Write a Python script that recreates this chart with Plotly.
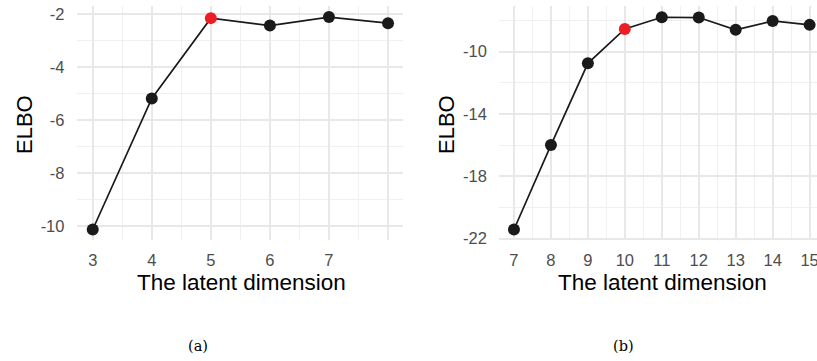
import plotly.graph_objects as go

# Panel (a)
dims_a = [3, 4, 5, 6, 7, 8]
elbo_a = [-10.14, -5.18, -2.14, -2.42, -2.10, -2.33]
best_a = 5
xtick_a = [3, 4, 5, 6, 7, 8]
xtext_a = ["3", "4", "5", "6", "7", ""]
ytick_a = [-2, -4, -6, -8, -10]

# Panel (b)
dims_b = [7, 8, 9, 10, 11, 12, 13, 14, 15]
elbo_b = [-21.42, -16.0, -10.75, -8.54, -7.79, -7.81, -8.6, -8.03, -8.28]
best_b = 10
xtick_b = [7, 8, 9, 10, 11, 12, 13, 14, 15]
ytick_b = [-10, -14, -18, -22]

FONT = "Liberation Sans"
LINE = "#1a1a1a"
RED = "#ee1d24"
GRID = "#e8e8e8"
MINOR = "#f0f0f0"

fig = go.Figure()

def add_panel(xs, ys, best, xa, ya):
    fig.add_trace(go.Scatter(x=xs, y=ys, mode="lines", line=dict(color=LINE, width=1.7),
                             xaxis=xa, yaxis=ya, showlegend=False, hoverinfo="skip", cliponaxis=False))
    cols = [RED if x == best else LINE for x in xs]
    fig.add_trace(go.Scatter(x=xs, y=ys, mode="markers", marker=dict(color=cols, size=12),
                             xaxis=xa, yaxis=ya, showlegend=False, cliponaxis=False))

add_panel(dims_a, elbo_a, best_a, "x", "y")
add_panel(dims_b, elbo_b, best_b, "x2", "y2")

common = dict(showline=False, zeroline=False, showgrid=True, gridcolor=GRID, gridwidth=1.6,
              tickfont=dict(family=FONT, size=16.5, color="#4d4d4d"), automargin=False,
              ticks="outside", tickcolor="rgba(0,0,0,0)", ticklabeloverflow="allow")

dom_y = [0.335, 0.982]

fig.update_layout(
    width=817, height=361, margin=dict(l=0, r=0, t=0, b=0),
    paper_bgcolor="white", plot_bgcolor="white",
    xaxis=dict(domain=[0.094, 0.493], range=[2.73, 8.25], tickmode="array",
               tickvals=xtick_a, ticktext=xtext_a, ticklen=5,
               minor=dict(tickvals=[3.5, 4.5, 5.5, 6.5, 7.5], showgrid=True, gridcolor=MINOR, gridwidth=1.1, ticklen=0),
               anchor="y", **common),
    yaxis=dict(domain=dom_y, range=[-10.54, -1.7], tickmode="array", tickvals=ytick_a,
               ticktext=[str(v) for v in ytick_a], ticklen=8,
               minor=dict(tickvals=[-3, -5, -7, -9], showgrid=True, gridcolor=MINOR, gridwidth=1.1, ticklen=0),
               anchor="x", **common),
    xaxis2=dict(domain=[0.611, 1.0], range=[6.6, 15.2], tickmode="array",
                tickvals=xtick_b, ticktext=[str(v) for v in xtick_b], ticklen=5,
                minor=dict(tickvals=[7.5 + i for i in range(8)], showgrid=True, gridcolor=MINOR, gridwidth=1.1, ticklen=0),
                anchor="y2", **common),
    yaxis2=dict(domain=dom_y, range=[-22.1, -7.1], tickmode="array", tickvals=ytick_b,
                ticktext=[str(v) for v in ytick_b], ticklen=8,
                minor=dict(tickvals=[-8, -12, -16, -20], showgrid=True, gridcolor=MINOR, gridwidth=1.1, ticklen=0),
                anchor="x2", **common),
)

ann = []
def txt(x, y, s, size, family=FONT, color="black", angle=0):
    ann.append(dict(x=x, y=y, xref="paper", yref="paper", text=s, showarrow=False,
                    font=dict(family=family, size=size, color=color), textangle=angle,
                    xanchor="center", yanchor="middle"))

txt(241 / 817, 1 - 282 / 361, "The latent dimension", 22.5)
txt(662 / 817, 1 - 282 / 361, "The latent dimension", 22.5)
txt(24 / 817, 1 - 125 / 361, "ELBO", 22, angle=-90)
txt(446 / 817, 1 - 125 / 361, "ELBO", 22, angle=-90)
txt(198 / 817, 1 - 346 / 361, "(a)", 14.5, family="DejaVu Serif")
txt(623 / 817, 1 - 346 / 361, "(b)", 14.5, family="DejaVu Serif")
fig.update_layout(annotations=ann)

fig.write_html("out.html", config={"displayModeBar": False},
               post_script="document.body.style.margin='0px';")
